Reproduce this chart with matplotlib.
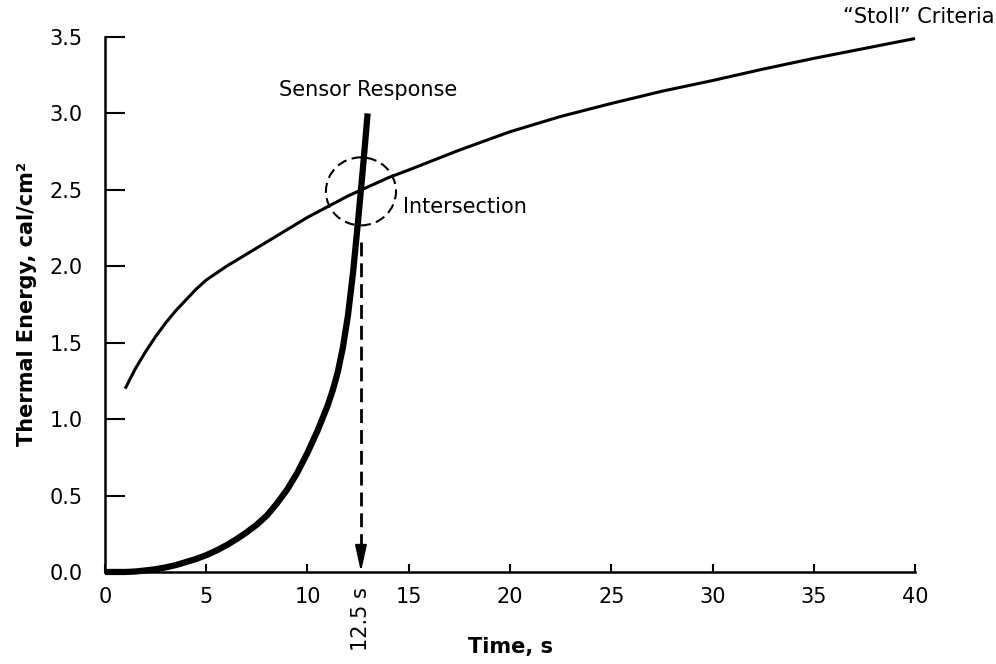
import numpy as np
import matplotlib
matplotlib.use('Agg')
import matplotlib.pyplot as plt
from matplotlib.patches import Ellipse

# "Stoll" criteria curve
stoll_t = [1, 1.5, 2, 2.5, 3, 3.5, 4, 4.5, 5, 6, 7, 8, 9, 10, 11, 12, 13, 14, 15,
           17.5, 20, 22.5, 25, 27.5, 30, 32.5, 35, 37.5, 40]
stoll_q = [1.2, 1.33, 1.44, 1.54, 1.63, 1.71, 1.78, 1.85, 1.91, 2.0, 2.08, 2.16, 2.24, 2.32, 2.39, 2.46, 2.52, 2.58, 2.63,
           2.76, 2.88, 2.98, 3.065, 3.145, 3.215, 3.29, 3.36, 3.425, 3.49]

# sensor response curve
sens_t = [0, 1, 1.5, 2, 2.5, 3, 3.5, 4, 4.5, 5, 5.5, 6, 6.5, 7, 7.5, 8, 8.5, 9, 9.5, 10,
          10.5, 11, 11.25, 11.5, 11.75, 12, 12.25, 12.5, 12.75, 12.97]
sens_q = [0, 0, 0.003, 0.01, 0.018, 0.03, 0.045, 0.065, 0.085, 0.11, 0.14, 0.175, 0.215, 0.26, 0.31, 0.37, 0.45, 0.54, 0.65, 0.78,
          0.925, 1.09, 1.19, 1.31, 1.47, 1.68, 1.96, 2.30, 2.66, 3.0]

t_cross = 12.64   # where the dashed arrow drops
q_cross = 2.49

fig = plt.figure(figsize=(9.96, 6.64), dpi=100)
ax = fig.add_axes([0.1054, 0.1386, 0.8133, 0.8057])

ax.plot(stoll_t, stoll_q, color='black', lw=2.2, clip_on=False, solid_capstyle='butt')
ax.plot(sens_t, sens_q, color='black', lw=4.5, clip_on=False, solid_capstyle='butt')

# intersection circle
circ = Ellipse((t_cross, q_cross), 3.46, 0.445, fill=False, ec='black', lw=1.5,
               linestyle=(0, (4.8, 2.6)))
ax.add_patch(circ)

# dashed drop line + arrow head
ax.plot([t_cross, t_cross], [2.16, 0.14], color='black', lw=2, dashes=(5, 2.5))
ax.annotate('', xy=(t_cross, 0), xytext=(t_cross, 0.15),
            arrowprops=dict(arrowstyle='-|>,head_length=1.6,head_width=0.35',
                            color='black', lw=1.5, shrinkA=0, shrinkB=0))

ax.text(13.0, 3.15, 'Sensor Response', fontsize=15, ha='center', va='center')
ax.text(14.7, 2.39, 'Intersection', fontsize=15, ha='left', va='center')
ax.text(36.45, 3.63, '\u201cStoll\u201d Criteria', fontsize=15, ha='left', va='center', clip_on=False)
ax.text(t_cross, -0.31, '12.5 s', fontsize=15, rotation=90, ha='center', va='center', clip_on=False)

ax.set_xlim(0, 40)
ax.set_ylim(0, 3.5)
ax.set_xticks(np.arange(0, 41, 5))
ax.set_yticks(np.arange(0, 3.51, 0.5))
ax.set_yticklabels(['%.1f' % v for v in np.arange(0, 3.51, 0.5)])

for s in ['top', 'right']:
    ax.spines[s].set_visible(False)
for s in ['left', 'bottom']:
    ax.spines[s].set_linewidth(1.8)

ax.tick_params(axis='y', direction='in', length=14.4, width=1.5, pad=16, labelsize=15)
ax.tick_params(axis='x', direction='in', length=6, width=1.5, pad=11, labelsize=15)

ax.set_xlabel('Time, s', fontsize=15, fontweight='bold')
ax.set_ylabel('Thermal Energy, cal/cm\u00b2', fontsize=15, fontweight='bold')
ax.xaxis.set_label_coords(0.5, -0.122)
ax.yaxis.set_label_coords(-0.084, 0.5)

fig.savefig('out.png', dpi=100)
